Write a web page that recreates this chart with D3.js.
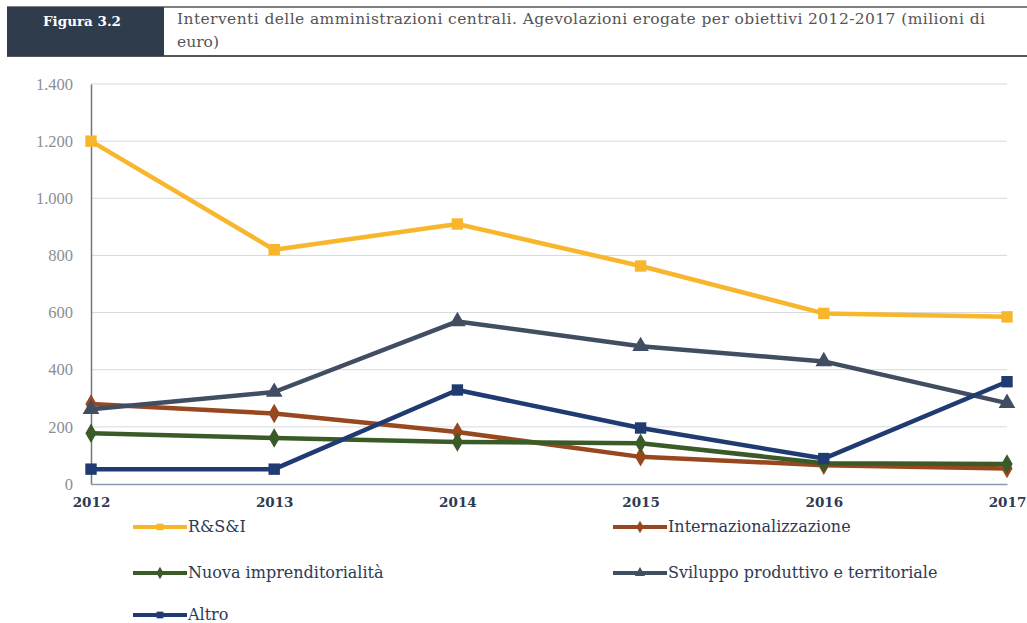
<!DOCTYPE html>
<html><head><meta charset="utf-8">
<script src="https://cdn.jsdelivr.net/npm/d3@7"></script>
<style>body{margin:0;background:#fff;} svg{display:block;}</style>
</head><body>
<svg id="c" width="1027" height="623"></svg>
<script>
const years = ["2012","2013","2014","2015","2016","2017"];
const yTicks = [0,200,400,600,800,1000,1200,1400];
const yTickLabels = ["0","200","400","600","800","1.000","1.200","1.400"];
const seriesNames = ["R&S&I","Internazionalizzazione","Nuova imprenditorialità","Sviluppo produttivo e territoriale","Altro"];
const rsi = [1200, 820, 910, 763, 597, 585];
const internaz = [280, 247, 182, 95, 66, 54];
const nuova = [178, 161, 147, 143, 73, 70];
const sviluppo = [262, 322, 569, 482, 429, 283];
const altro = [52, 52, 329, 196, 89, 358];
const colors = ["#F8B62C","#98481F","#3A5A27","#414D61","#203B72"];
const shapes = ["square","diamond","diamond","triangle","square"];
const title1 = "Interventi delle amministrazioni centrali. Agevolazioni erogate per obiettivi 2012-2017 (milioni di";
const title2 = "euro)";

const svg = d3.select("#c");
const serif = "'DejaVu Serif','Liberation Serif',serif";
const serif2 = "'Liberation Serif','DejaVu Serif',serif";

// header
svg.append("line").attr("x1",7).attr("x2",1027).attr("y1",7).attr("y2",7).attr("stroke","#555").attr("stroke-width",1.5);
svg.append("line").attr("x1",7).attr("x2",1027).attr("y1",56).attr("y2",56).attr("stroke","#555").attr("stroke-width",2);
svg.append("rect").attr("x",7).attr("y",7).attr("width",157).attr("height",49).attr("fill","#2E3C4C");
svg.append("text").attr("x",82).attr("y",26).attr("text-anchor","middle").attr("fill","#fff")
  .attr("font-family",serif).attr("font-weight","bold").attr("font-size",13.5).text("Figura 3.2");
svg.append("text").attr("x",177).attr("y",24).attr("fill","#555").attr("font-family",serif).attr("font-size",15.5)
  .attr("textLength",808).attr("lengthAdjust","spacing").text(title1);
svg.append("text").attr("x",177).attr("y",47).attr("fill","#555").attr("font-family",serif).attr("font-size",15.5).text(title2);

const x = d3.scalePoint().domain(years).range([91,1007]);
const y = d3.scaleLinear().domain([0,1400]).range([484,84]);

// grid
svg.append("g").selectAll("line").data(yTicks.filter(d=>d>0)).enter().append("line")
  .attr("x1",91).attr("x2",1007).attr("y1",d=>y(d)).attr("y2",d=>y(d))
  .attr("stroke","#D6D9DD").attr("stroke-width",1);

// y axis
const yAxis = d3.axisLeft(y).tickValues(yTicks).tickSize(0).tickPadding(18)
  .tickFormat((d,i)=>yTickLabels[i]);
const ya = svg.append("g").attr("transform","translate(91,0)").call(yAxis);
ya.select(".domain").attr("stroke","#6F7780").attr("stroke-width",1.5);
ya.selectAll("text").attr("font-family",serif2).attr("font-size",16.5).attr("fill","#8A8F96");

// x axis
const xAxis = d3.axisBottom(x).tickSize(0).tickPadding(13);
const xa = svg.append("g").attr("transform","translate(0,484)").call(xAxis);
xa.select(".domain").attr("stroke","#8C9BB4").attr("stroke-width",1.5);
xa.selectAll("text").attr("font-family",serif).attr("font-size",13.5).attr("font-weight","bold").attr("fill","#2E3A52");

const data = [rsi, internaz, nuova, sviluppo, altro];
const line = d3.line().x((d,i)=>x(years[i])).y(d=>y(d));
const symMap = {square:d3.symbolSquare, diamond:d3.symbolDiamond, triangle:d3.symbolTriangle};
const symSize = {square:130, diamond:110, triangle:120};

data.forEach((s,k)=>{
  svg.append("path").datum(s).attr("d",line).attr("fill","none")
    .attr("stroke",colors[k]).attr("stroke-width",4.5).attr("stroke-linejoin","round");
  svg.selectAll(null).data(s).enter().append("path")
    .attr("transform",(d,i)=>`translate(${x(years[i])},${y(d)})`)
    .attr("d",d3.symbol().type(symMap[shapes[k]]).size(symSize[shapes[k]]))
    .attr("fill",colors[k]);
});

// legend
const legPos = [[133,527],[613,527],[133,573],[613,573],[133,615]];
seriesNames.forEach((n,k)=>{
  const [lx,ly] = legPos[k];
  svg.append("line").attr("x1",lx).attr("x2",lx+54).attr("y1",ly).attr("y2",ly)
    .attr("stroke",colors[k]).attr("stroke-width",4);
  svg.append("path").attr("transform",`translate(${lx+27},${ly})`)
    .attr("d",d3.symbol().type(symMap[shapes[k]]).size(45)).attr("fill",colors[k]);
  svg.append("text").attr("x",lx+55).attr("y",ly+5).attr("font-family",serif).attr("font-size",16)
    .attr("fill","#2C3A58").text(n);
});
</script>
</body></html>
